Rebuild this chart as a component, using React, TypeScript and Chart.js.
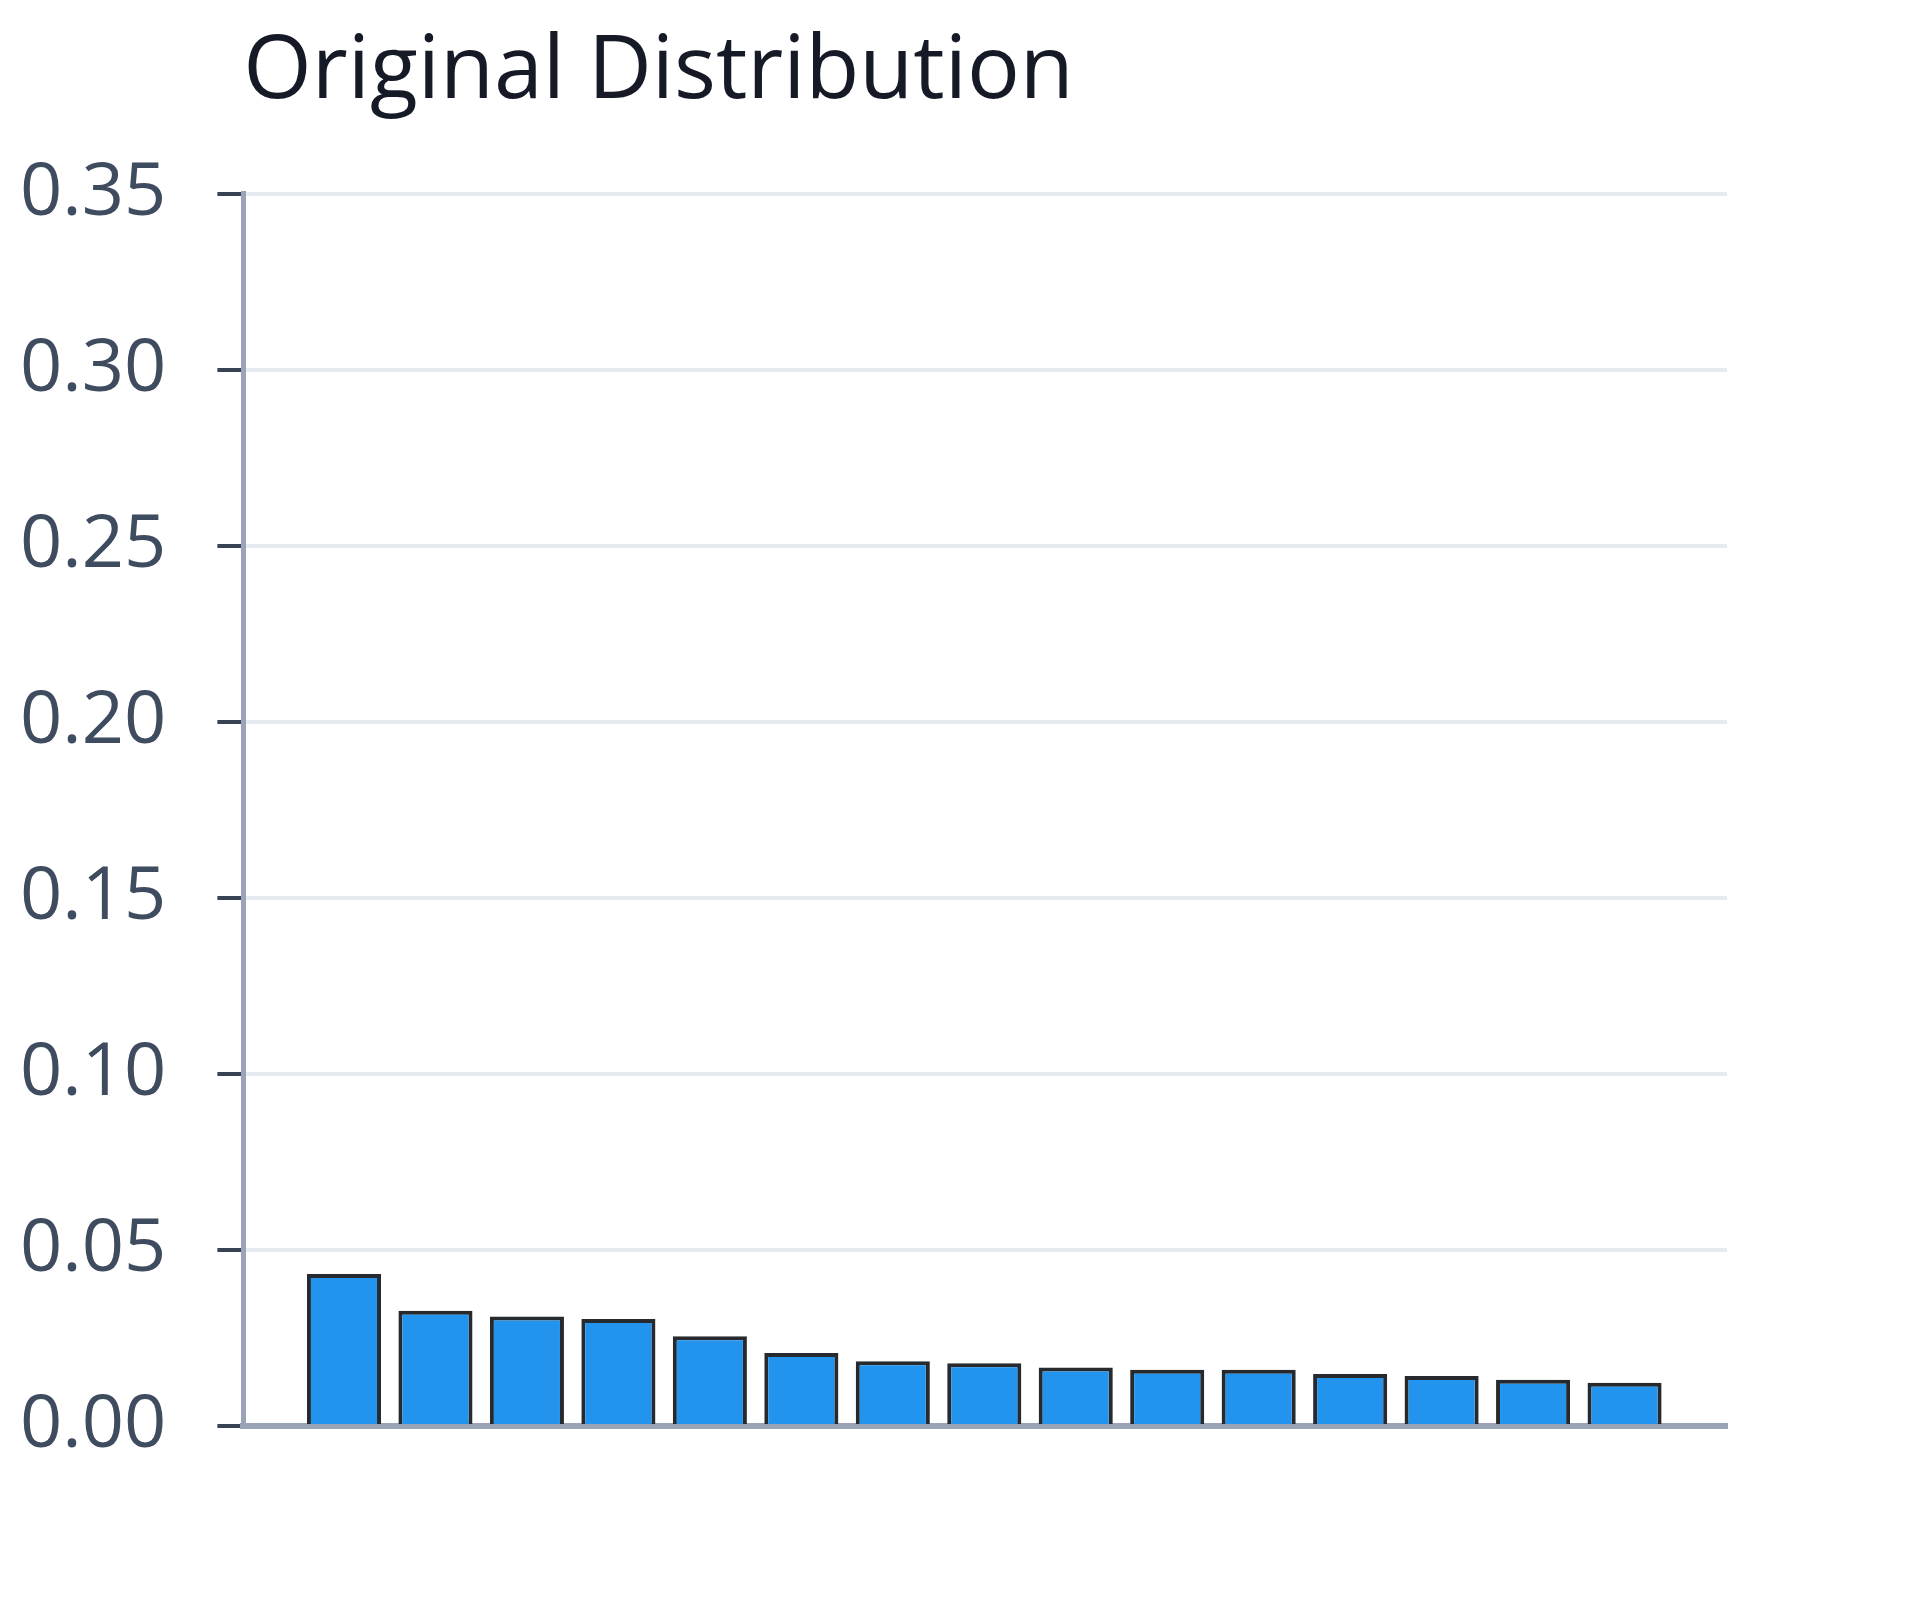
import React, { useEffect, useRef } from 'react';
import { Chart, registerables } from 'chart.js';

Chart.register(...registerables);

// valeurs (15 barres, decroissantes)
const titleText = 'Original Distribution';
const barIndex = [0, 1, 2, 3, 4, 5, 6, 7, 8, 9, 10, 11, 12, 13, 14];
const barValues = [0.0432, 0.0327, 0.0311, 0.0304, 0.0255, 0.0207, 0.0184, 0.0178, 0.0166, 0.016, 0.016, 0.0148, 0.0142, 0.0131, 0.0123];
const yTicks = [0, 0.05, 0.1, 0.15, 0.2, 0.25, 0.3, 0.35];

const App = () => {
  const canvasRef = useRef<HTMLCanvasElement | null>(null);
  const chartRef = useRef<Chart | null>(null);

  useEffect(() => {
    document.body.style.margin = '0';
    if (!canvasRef.current) return;
    const ctx = canvasRef.current.getContext('2d');
    if (!ctx) return;

    chartRef.current = new Chart(ctx, {
      type: 'bar',
      data: {
        datasets: [{
          label: titleText,
          data: barIndex.map((x, i) => ({ x, y: barValues[i] })),
          backgroundColor: '#2294ee',
          borderColor: '#26292d',
          borderWidth: 4,
          barPercentage: 0.81,
          categoryPercentage: 1,
        }],
      },
      options: {
        animation: false,
        responsive: false,
        devicePixelRatio: 1,
        // le calcul de largeur de l'axe y laisse trop de place a gauche
        layout: { padding: { left: -31, right: 193, top: 0, bottom: 174 } },
        plugins: {
          legend: { display: false },
          tooltip: { enabled: false },
          title: {
            display: true,
            text: titleText,
            align: 'start',
            fullSize: false,
            color: '#151a26',
            font: { family: 'Open Sans', size: 88, weight: 'normal' },
            padding: { top: 20, bottom: 68 },
          },
        },
        scales: {
          x: {
            type: 'linear',
            offset: false,
            min: -1.1,
            max: 15.12,
            afterBuildTicks: (axis: any) => {
              axis.ticks = barIndex.map(v => ({ value: v }));
            },
            ticks: { display: false },
            grid: { display: false, drawTicks: false },
            border: { display: true, color: '#9aa3b8', width: 6 },
          },
          y: {
            min: 0,
            max: 0.35,
            afterBuildTicks: (axis: any) => {
              axis.ticks = yTicks.map(v => ({ value: v }));
            },
            ticks: {
              color: '#3f4b5e',
              font: { family: 'Open Sans', size: 74 },
              padding: 51,
              callback: (v: any) => Number(v).toFixed(2),
            },
            grid: {
              color: '#e7eaf0',
              lineWidth: 4,
              drawTicks: true,
              tickLength: 26,
              tickColor: '#374255',
              tickWidth: 4,
            },
            border: { display: true, color: '#9aa3b8', width: 5 },
          },
        },
      },
    });

    return () => {
      if (chartRef.current) {
        chartRef.current.destroy();
        chartRef.current = null;
      }
    };
  }, []);

  return (
    <div style={{ width: 1920, height: 1600, background: '#fff' }}>
      <canvas ref={canvasRef} width={1920} height={1600} style={{ width: 1920, height: 1600 }}></canvas>
    </div>
  );
};

export default App;
